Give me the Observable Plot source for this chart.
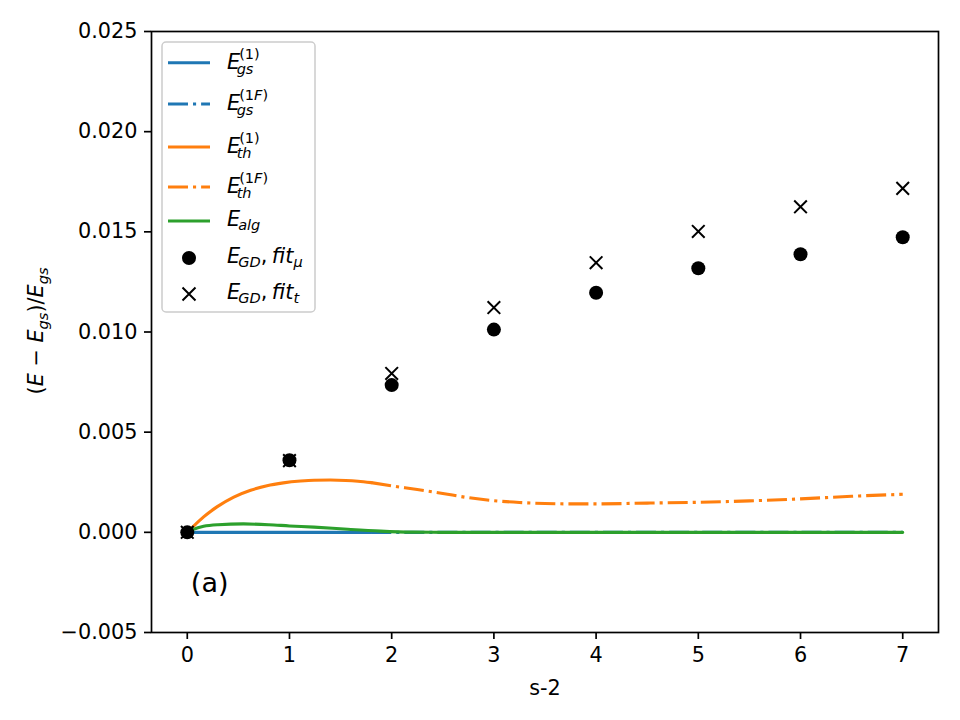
<!DOCTYPE html>
<html>
<head>
<meta charset="utf-8">
<script src="https://cdn.jsdelivr.net/npm/d3@7"></script>
<script src="https://cdn.jsdelivr.net/npm/@observablehq/plot@0.6"></script>
<style>
  html, body { margin: 0; padding: 0; background: #fff; }
  #chart { width: 960px; height: 720px; }
</style>
</head>
<body>
<div id="chart"></div>
<script>
// ---- data -------------------------------------------------------------
// x axis is s-2
const sIdx = [0, 1, 2, 3, 4, 5, 6, 7];
const gdFitMu = [0.0, 0.0036, 0.00735, 0.01012, 0.01196, 0.01318, 0.01388, 0.01473];
const gdFitT  = [0.0, 0.00358, 0.00793, 0.01122, 0.01346, 0.01502, 0.01625, 0.01717];

// ground-state first-order estimate (solid) and its fitted continuation (dash-dot)
const gs1X  = [0, 1.8];
const gs1Y  = [0, 0];
const gs1FX = [1.8, 7];
const gs1FY = [0, 0];

// thermal estimate (solid) and its fitted continuation (dash-dot)
const th1X  = [0, 0.06, 0.16, 0.29, 0.455, 0.62, 0.78, 0.94, 1.11, 1.24, 1.4, 1.55, 1.67, 1.8];
const th1Y  = [0, 0.0003, 0.00077, 0.00127, 0.00176, 0.0021, 0.00233, 0.00247, 0.00256, 0.0026, 0.00261, 0.00259, 0.00255, 0.00248];
const th1FX = [1.8, 2.0, 2.25, 2.5, 2.75, 3.0, 3.25, 3.5, 3.75, 4.0, 4.5, 5.0, 5.5, 6.0, 6.5, 7.0];
const th1FY = [0.00248, 0.00232, 0.00214, 0.00194, 0.00173, 0.00158, 0.00149, 0.00144, 0.00142, 0.00142, 0.00146, 0.0015, 0.00157, 0.00167, 0.0018, 0.0019];

// algorithmic estimate
const algX = [0, 0.06, 0.16, 0.3, 0.55, 0.8, 1.0, 1.24, 1.57, 1.89, 2.2, 2.5, 3, 4, 5, 6, 7];
const algY = [0, 0.00015, 0.0003, 0.00038, 0.00042, 0.00038, 0.00032, 0.00026, 0.00015, 0.00006, 0.00001, 0, 0, 0, 0, 0, 0];

const xTicks = [0, 1, 2, 3, 4, 5, 6, 7];
const yTicks = [-0.005, 0, 0.005, 0.010, 0.015, 0.020, 0.025];
const panelTag = [{x: 0.035, y: -0.00254, text: "(a)"}];

// ---- styling ----------------------------------------------------------
const C_BLUE = "#1f77b4", C_ORANGE = "#ff7f0e", C_GREEN = "#2ca02c";
const LW = 3.1;
const DASHDOT = "20,5,3.1,5";
const FONT = "DejaVu Sans";
const FS = 20.8;

const pts = (xs, ys) => xs.map((x, i) => ({x, y: ys[i]}));

const chart = Plot.plot({
  width: 960,
  height: 720,
  marginLeft: 151,
  marginRight: 22,
  marginTop: 31,
  marginBottom: 88,
  style: {fontFamily: FONT, fontSize: FS + "px", background: "#fff", color: "#000", overflow: "visible"},
  x: {domain: [-0.35, 7.35]},
  y: {domain: [-0.005, 0.025]},
  marks: [
    Plot.line(pts(gs1X, gs1Y), {x: "x", y: "y", stroke: C_BLUE, strokeWidth: LW}),
    Plot.line(pts(gs1FX, gs1FY), {x: "x", y: "y", stroke: C_BLUE, strokeWidth: LW, strokeDasharray: DASHDOT, strokeLinecap: "butt"}),
    Plot.line(pts(th1X, th1Y), {x: "x", y: "y", stroke: C_ORANGE, strokeWidth: LW, curve: "monotone-x"}),
    Plot.line(pts(th1FX, th1FY), {x: "x", y: "y", stroke: C_ORANGE, strokeWidth: LW, curve: "monotone-x", strokeDasharray: DASHDOT, strokeLinecap: "butt"}),
    Plot.line(pts(algX, algY), {x: "x", y: "y", stroke: C_GREEN, strokeWidth: LW, curve: "monotone-x"}),
    Plot.dot(pts(sIdx, gdFitMu), {x: "x", y: "y", r: 7, fill: "#000", stroke: "none"}),
    Plot.dot(pts(sIdx, gdFitT), {x: "x", y: "y", r: 5.8, symbol: "times", stroke: "#000", strokeWidth: 2}),
    Plot.text(panelTag, {x: "x", y: "y", text: "text", textAnchor: "start", lineAnchor: "middle", fontSize: 27, fill: "#000"}),
    Plot.frame({stroke: "#000", strokeWidth: 1.7}),
    Plot.axisX({ticks: xTicks, tickSize: 7, tickPadding: 8, strokeWidth: 1.7, label: "s-2", labelAnchor: "center", labelArrow: "none", labelOffset: 62, fontSize: FS}),
    Plot.axisY({ticks: yTicks, tickSize: 7, tickPadding: 7, strokeWidth: 1.7, tickFormat: d3.format(".3f"), label: null, fontSize: FS})
  ]
});
document.getElementById("chart").appendChild(chart);

// ---- math-style labels ------------------------------------------------
const svg = d3.select(chart);
const SUB = FS * 0.7;

// y-axis label: (E − E_gs)/E_gs
{
  const t = svg.append("text")
    .attr("transform", "translate(43,331) rotate(-90)")
    .attr("text-anchor", "middle")
    .attr("font-family", FONT)
    .attr("font-size", FS)
    .attr("fill", "#000");
  t.append("tspan").text("(");
  t.append("tspan").attr("font-style", "italic").text("E");
  t.append("tspan").text(" \u2212 ");
  t.append("tspan").attr("font-style", "italic").text("E");
  t.append("tspan").attr("font-style", "italic").attr("font-size", SUB).attr("dy", 4.5).text("gs");
  t.append("tspan").attr("dy", -4.5).text(")/");
  t.append("tspan").attr("font-style", "italic").text("E");
  t.append("tspan").attr("font-style", "italic").attr("font-size", SUB).attr("dy", 4.5).text("gs");
}

// legend
const legendItems = [
  {kind: "line", color: C_BLUE, dash: null, sup: "1", sub: "gs"},
  {kind: "line", color: C_BLUE, dash: DASHDOT, sup: "1F", sub: "gs"},
  {kind: "line", color: C_ORANGE, dash: null, sup: "1", sub: "th"},
  {kind: "line", color: C_ORANGE, dash: DASHDOT, sup: "1F", sub: "th"},
  {kind: "line", color: C_GREEN, dash: null, sub: "alg"},
  {kind: "dot", sub: "GD", tailSub: "\u03bc"},
  {kind: "cross", sub: "GD", tailSub: "t"}
];
const legendRows = [62.7, 104, 147, 187, 221, 258, 294];

const lg = svg.append("g")
  .attr("font-family", FONT)
  .attr("text-anchor", "start")
  .attr("fill", "#000");
lg.append("rect")
  .attr("x", 162).attr("y", 42).attr("width", 153).attr("height", 270)
  .attr("rx", 4).attr("ry", 4)
  .attr("fill", "#fff").attr("fill-opacity", 0.8)
  .attr("stroke", "#cccccc").attr("stroke-width", 1.5);

const hx0 = 168, hx1 = 210, hxc = 189, tx = 227;
legendItems.forEach((d, i) => {
  const row = legendRows[i];
  if (d.kind === "line") {
    lg.append("line")
      .attr("x1", hx0).attr("x2", hx1).attr("y1", row).attr("y2", row)
      .attr("stroke", d.color).attr("stroke-width", LW)
      .attr("stroke-dasharray", d.dash || null);
  } else if (d.kind === "dot") {
    lg.append("circle").attr("cx", hxc).attr("cy", row).attr("r", 7).attr("fill", "#000");
  } else {
    const r = 6.5;
    lg.append("path")
      .attr("d", `M${hxc - r},${row - r}L${hxc + r},${row + r}M${hxc - r},${row + r}L${hxc + r},${row - r}`)
      .attr("stroke", "#000").attr("stroke-width", 2).attr("fill", "none");
  }

  if (d.sup) {
    // stacked super/subscript on E; the superscript is "(1)" or "(1F)" with an italic F
    const base = row + 6.3;
    const e = lg.append("text").attr("x", tx).attr("y", base)
      .attr("font-size", FS).attr("font-style", "italic").text("E");
    const w = e.node().getComputedTextLength();
    const sp = lg.append("text").attr("x", tx + w - 1).attr("y", row - 4)
      .attr("font-size", SUB);
    sp.append("tspan").text("(1");
    if (d.sup.includes("F")) sp.append("tspan").attr("font-style", "italic").text("F");
    sp.append("tspan").text(")");
    lg.append("text").attr("x", tx + w - 3.5).attr("y", row + 11)
      .attr("font-size", SUB).attr("font-style", "italic").text(d.sub);
  } else {
    const base = row + 4.5;
    const t = lg.append("text").attr("x", tx).attr("y", base).attr("font-size", FS);
    t.append("tspan").attr("font-style", "italic").text("E");
    t.append("tspan").attr("font-style", "italic").attr("font-size", SUB).attr("dx", -2).attr("dy", 4.5).text(d.sub);
    if (d.tailSub) {
      t.append("tspan").attr("dy", -4.5).text(", ");
      t.append("tspan").attr("font-style", "italic").attr("dx", -2).text("fit");
      t.append("tspan").attr("font-style", "italic").attr("font-size", SUB).attr("dy", 4.5).text(d.tailSub);
    }
  }
});
</script>
</body>
</html>
